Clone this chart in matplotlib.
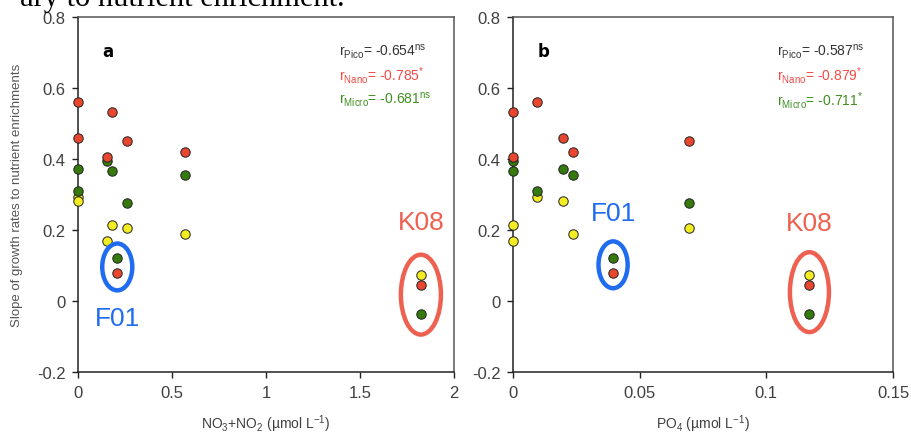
import numpy as np
import matplotlib
matplotlib.use("Agg")
import matplotlib.pyplot as plt
from matplotlib.patches import Ellipse

plt.rcParams['font.family'] = ['Liberation Sans', 'DejaVu Sans']
plt.rcParams['mathtext.default'] = 'regular'

# ---- data (8 stations; index 6 = F01, index 7 = K08) ----
nox = [0.0, 0.179, 0.0, 0.259, 0.571, 0.154, 0.209, 1.824]
po4 = [0.0096, 0.0, 0.0196, 0.0695, 0.0237, 0.0, 0.0395, 0.117]
nano = [0.560, 0.533, 0.460, 0.450, 0.421, 0.405, 0.079, 0.045]
micro = [0.309, 0.365, 0.372, 0.275, 0.356, 0.395, 0.121, -0.036]
pico = [0.293, 0.215, 0.283, 0.205, 0.190, 0.168, np.nan, 0.072]

r_a = ["-0.654", "-0.785", "-0.681"]
sig_a = ["ns", "*", "ns"]
r_b = ["-0.587", "-0.879", "-0.711"]
sig_b = ["ns", "*", "*"]

xticks_a = [0, 0.5, 1, 1.5, 2]
xticklabels_a = ["0", "0.5", "1", "1.5", "2"]
xticks_b = [0, 0.05, 0.1, 0.15]
xticklabels_b = ["0", "0.05", "0.1", "0.15"]
yticks = [-0.2, 0, 0.2, 0.4, 0.6, 0.8]
yticklabels = ["-0.2", "0", "0.2", "0.4", "0.6", "0.8"]

C_RED = "#E8462E"
C_GREEN = "#347A0C"
C_YEL = "#F4EC22"
T_PICO = "#333333"
T_NANO = "#F04B46"
T_MICRO = "#3F9020"
BLUE = "#1F6CF0"
SALMON = "#EE6150"
TICKC = "#404040"

fig = plt.figure(figsize=(9.12, 4.35), dpi=100)
ax_a = fig.add_axes([0.0855, 0.1425, 0.4123, 0.816])
ax_b = fig.add_axes([0.5625, 0.1425, 0.4167, 0.816])

fig.text(0.022, 0.986, "ary to nutrient enrichment.", family="Liberation Serif",
         fontsize=22, va="baseline", ha="left", color="black")


def style(ax, xlim, xt, xtl):
    ax.set_xlim(*xlim)
    ax.set_ylim(-0.2, 0.8)
    ax.set_xticks(xt)
    ax.set_xticklabels(xtl)
    ax.set_yticks(yticks)
    ax.set_yticklabels(yticklabels)
    ax.tick_params(direction="out", length=4, width=1, colors="#222222",
                   labelcolor=TICKC, labelsize=12, pad=5)
    ax.spines["left"].set_color("#222222")
    ax.spines["bottom"].set_color("#222222")
    ax.spines["top"].set_color("#555555")
    ax.spines["right"].set_color("#555555")
    for s in ax.spines.values():
        s.set_linewidth(1.1)


def draw(ax, x, xlim, xt, xtl, letter, rv, sg, xlabel, fx_w, kx_w, f_y_off, k_y_off):
    style(ax, xlim, xt, xtl)
    kw = dict(s=46, edgecolors="#222222", linewidths=0.7, zorder=3, clip_on=False)
    ax.scatter(x, pico, c=C_YEL, **kw)
    ax.scatter(x, micro, c=C_GREEN, **kw)
    ax.scatter(x, nano, c=C_RED, **kw)

    # F01 ellipse
    fx = x[6]
    fy = (micro[6] + nano[6]) / 2 + f_y_off
    ax.add_patch(Ellipse((fx, fy), fx_w, 0.132, fill=False, ec=BLUE, lw=3.2, zorder=4))
    # K08 ellipse
    kx = x[7]
    ky = (pico[7] + micro[7]) / 2 + k_y_off
    ax.add_patch(Ellipse((kx, ky), kx_w, 0.225, fill=False, ec=SALMON, lw=3.2, zorder=4))

    ax.text(0.065, 0.905, letter, transform=ax.transAxes, fontsize=12,
            fontweight="bold", color="black", family="DejaVu Sans", va="center")
    names = ["Pico", "Nano", "Micro"]
    cols = [T_PICO, T_NANO, T_MICRO]
    for i in range(3):
        ax.text(0.695, 0.905 - i * 0.068,
                "r$_{%s}$= %s$^{%s}$" % (names[i], rv[i], sg[i]),
                transform=ax.transAxes, fontsize=10, color=cols[i], va="center")
    ax.set_xlabel(xlabel, fontsize=10, color=TICKC, labelpad=9)
    return fx, fy, kx, ky


fx, fy, kx, ky = draw(ax_a, nox, (0, 2), xticks_a, xticklabels_a, "a", r_a, sig_a,
                      "NO$_3$+NO$_2$ (µmol L$^{-1}$)", 0.16, 0.213, -0.004, 0.0)
ax_a.text(fx, fy - 0.145, "F01", color=BLUE, fontsize=19, ha="center", va="center")
ax_a.text(kx, ky + 0.205, "K08", color=SALMON, fontsize=19, ha="center", va="center")
ax_a.set_ylabel("Slope of growth rates to nutrient enrichments", fontsize=9.5,
                color="#555555")
ax_a.yaxis.set_label_coords(-0.146, 0.5)

fx, fy, kx, ky = draw(ax_b, po4, (0, 0.15), xticks_b, xticklabels_b, "b", r_b, sig_b,
                      "PO$_4$ (µmol L$^{-1}$)", 0.0115, 0.0154, 0.002, 0.007)
ax_b.text(fx, fy + 0.145, "F01", color=BLUE, fontsize=19, ha="center", va="center")
ax_b.text(kx, ky + 0.195, "K08", color=SALMON, fontsize=19, ha="center", va="center")

fig.savefig("out.png", dpi=100)
